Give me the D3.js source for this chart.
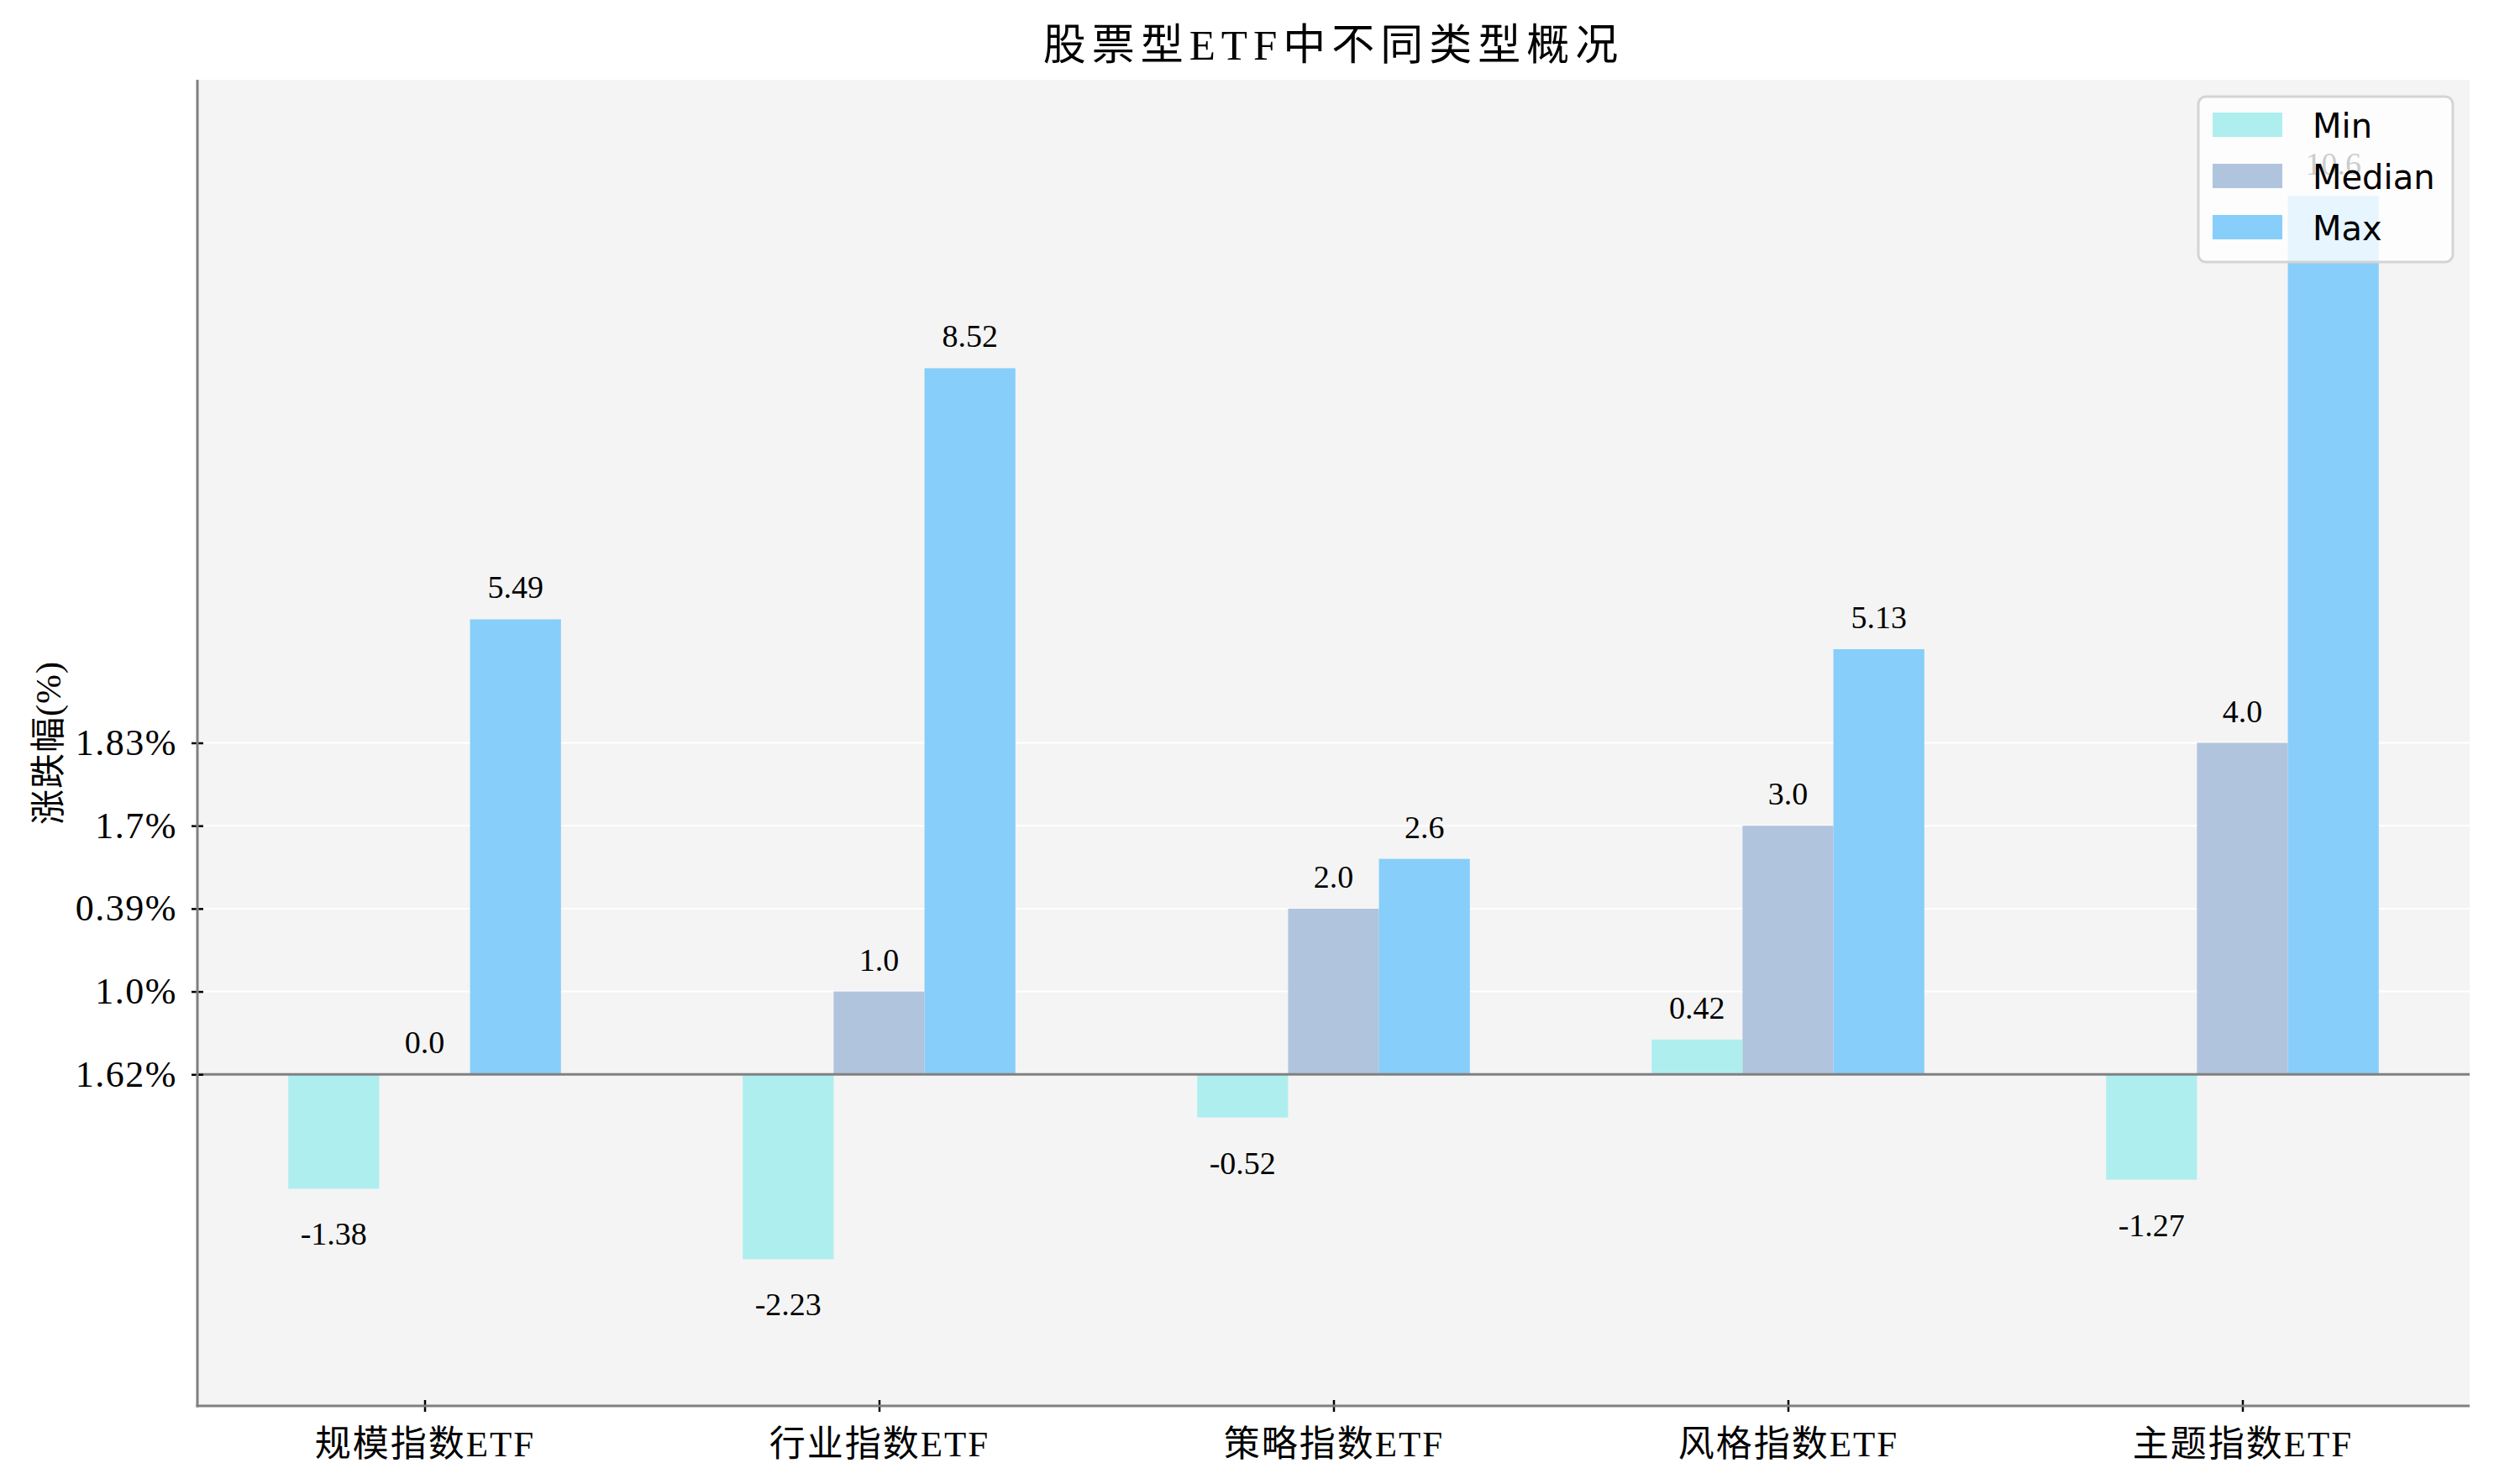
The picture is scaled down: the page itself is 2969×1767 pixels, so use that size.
<!DOCTYPE html>
<html>
<head>
<meta charset="utf-8">
<script src="https://cdn.jsdelivr.net/npm/d3@7"></script>
<style>
  html, body { margin: 0; padding: 0; background: #ffffff; }
  svg { display: block; }
</style>
</head>
<body>
<svg id="chart" width="2969" height="1767"></svg>
<script>
// ---- data ----
const categories = ["规模指数ETF", "行业指数ETF", "策略指数ETF", "风格指数ETF", "主题指数ETF"];
const seriesNames = ["Min", "Median", "Max"];
const minValues = [-1.38, -2.23, -0.52, 0.42, -1.27];
const medianValues = [0.0, 1.0, 2.0, 3.0, 4.0];
const maxValues = [5.49, 8.52, 2.6, 5.13, 10.6];
const yTickValues = [0, 1, 2, 3, 4];
const yTickLabels = ["1.62%", "1.0%", "0.39%", "1.7%", "1.83%"];
const titleText = "股票型ETF中不同类型概况";
const yLabelText = "涨跌幅(%)";
const seriesColors = ["#AFEEEE", "#B0C4DE", "#87CEFA"];

const series = [minValues, medianValues, maxValues];

// ---- layout ----
const svg = d3.select("#chart");
const pL = 235, pR = 2940, pT = 95, pB = 1674;
const serif = "'Liberation Serif', 'Noto Sans CJK SC', serif";
const sans = "'DejaVu Sans', sans-serif";

const x = d3.scalePoint().domain(categories).range([pL, pR]).padding(0.5);
const y = d3.scaleLinear().domain([-4, 12]).range([pB, pT]);
const bw = x.step() * 0.2;

// axes background
svg.append("rect").attr("x", pL).attr("y", pT)
  .attr("width", pR - pL).attr("height", pB - pT)
  .attr("fill", "#f4f4f4");

// grid lines
svg.append("g").selectAll("line").data(yTickValues).join("line")
  .attr("x1", pL).attr("x2", pR)
  .attr("y1", d => y(d)).attr("y2", d => y(d))
  .attr("stroke", "#ffffff").attr("stroke-width", 2);

// bars
const barG = svg.append("g");
series.forEach((vals, si) => {
  barG.selectAll(null).data(vals).join("rect")
    .attr("x", (d, i) => x(categories[i]) + (si - 1) * bw - bw / 2)
    .attr("width", bw)
    .attr("y", d => y(Math.max(0, d)))
    .attr("height", d => Math.abs(y(d) - y(0)))
    .attr("fill", seriesColors[si]);
});

// value labels
const labG = svg.append("g");
series.forEach((vals, si) => {
  labG.selectAll(null).data(vals).join("text")
    .attr("x", (d, i) => x(categories[i]) + (si - 1) * bw)
    .attr("y", d => d >= 0 ? y(d) - 25 : y(d) + 67)
    .attr("text-anchor", "middle")
    .attr("font-family", serif)
    .attr("font-size", 38)
    .attr("fill", "#000")
    .text(d => String(d % 1 === 0 ? d.toFixed(1) : d));
});

// zero line
svg.append("line")
  .attr("x1", pL).attr("x2", pR)
  .attr("y1", y(0)).attr("y2", y(0))
  .attr("stroke", "#808080").attr("stroke-width", 3);

// y axis
const yAxis = d3.axisLeft(y).tickValues(yTickValues)
  .tickFormat((d, i) => yTickLabels[i]).tickSizeInner(7).tickSizeOuter(0).tickPadding(17);
const yg = svg.append("g").attr("transform", `translate(${pL},0)`).call(yAxis);
yg.select(".domain").remove();
yg.selectAll(".tick line").attr("x1", -7).attr("x2", 7).attr("stroke", "#000").attr("stroke-width", 2.5);
yg.selectAll(".tick text").attr("font-family", serif).attr("font-size", 44)
  .attr("letter-spacing", 1.5).attr("fill", "#000");

// x axis
const xAxis = d3.axisBottom(x).tickSizeInner(7).tickSizeOuter(0).tickPadding(22);
const xg = svg.append("g").attr("transform", `translate(0,${pB})`).call(xAxis);
xg.select(".domain").remove();
xg.selectAll(".tick line").attr("y1", -7).attr("y2", 7).attr("stroke", "#000").attr("stroke-width", 2.5);
xg.selectAll(".tick text").attr("font-family", serif).attr("font-size", 43)
  .attr("letter-spacing", 2).attr("fill", "#000");

// spines
svg.append("line").attr("x1", pL).attr("x2", pL).attr("y1", pT).attr("y2", pB + 1.5)
  .attr("stroke", "#808080").attr("stroke-width", 3);
svg.append("line").attr("x1", pL - 1.5).attr("x2", pR).attr("y1", pB).attr("y2", pB)
  .attr("stroke", "#808080").attr("stroke-width", 3);

// title
svg.append("text").attr("x", (pL + pR) / 2).attr("y", 71)
  .attr("text-anchor", "middle").attr("font-family", serif).attr("font-size", 51)
  .attr("letter-spacing", 7).attr("fill", "#000").text(titleText);

// y label
svg.append("text")
  .attr("transform", `translate(72,${(pT + pB) / 2}) rotate(-90)`)
  .attr("text-anchor", "middle").attr("font-family", serif).attr("font-size", 42)
  .attr("letter-spacing", 1).attr("fill", "#000").text(yLabelText);

// legend
const lg = svg.append("g");
lg.append("rect").attr("x", 2617).attr("y", 115).attr("width", 303).attr("height", 197)
  .attr("rx", 9).attr("ry", 9)
  .attr("fill", "#ffffff").attr("fill-opacity", 0.8)
  .attr("stroke", "#d4d4d4").attr("stroke-width", 3);
seriesNames.forEach((name, i) => {
  const ry = 134 + i * 61;
  lg.append("rect").attr("x", 2634).attr("y", ry).attr("width", 83).attr("height", 29)
    .attr("fill", seriesColors[i]);
  lg.append("text").attr("x", 2753).attr("y", ry + 30)
    .attr("font-family", sans).attr("font-size", 40).attr("fill", "#000").text(name);
});
</script>
</body>
</html>
